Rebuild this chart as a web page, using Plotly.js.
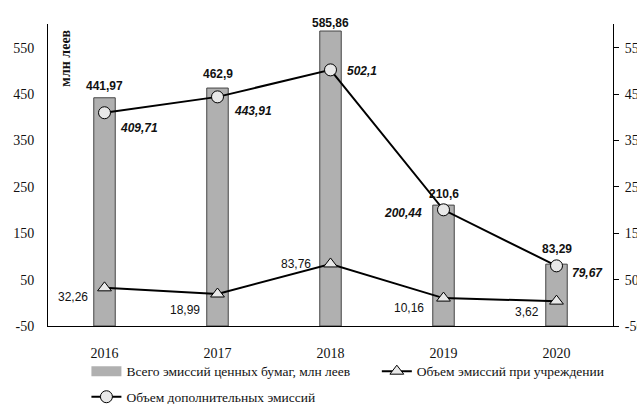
<!DOCTYPE html>
<html><head><meta charset="utf-8">
<script src="https://cdn.plot.ly/plotly-3.0.1.min.js"></script>
<style>html,body{margin:0;padding:0;background:#fff}</style>
</head><body>
<div id="chart" style="width:637px;height:404px"></div>
<script>
var years = ['2016','2017','2018','2019','2020'];
var totalIssues = [441.97, 462.9, 585.86, 210.6, 83.29];
var foundingIssues = [32.26, 18.99, 83.76, 10.16, 3.62];
var additionalIssues = [409.71, 443.91, 502.1, 200.44, 79.67];
var yTicks = [-50, 50, 150, 250, 350, 450, 550];
var seriesNames = ['Всего эмиссий ценных бумаг, млн леев', 'Объем эмиссий при учреждении', 'Объем дополнительных эмиссий'];
var axisLabel = 'млн леев';

function fmt(v){ return String(v).replace('.', ','); }

var Y_MIN = -50, Y_MAX = 601;
var sans = 'Liberation Sans, Arial, sans-serif';
var serif = 'Liberation Serif, Times New Roman, serif';

var traces = [
  {
    type: 'bar', x: years, y: totalIssues.map(function(v){ return v - Y_MIN; }), base: Y_MIN,
    name: seriesNames[0], showlegend: false,
    width: 0.19,
    marker: {color: '#b0b0b0', line: {color: '#444', width: 1}},
    hoverinfo: 'none'
  },
  {
    type: 'scatter', mode: 'lines', x: [null], y: [null], name: seriesNames[0],
    legend: 'legend', legendgroup: 'a',
    line: {color: '#b0b0b0', width: 10}, hoverinfo: 'none'
  },
  {
    type: 'scatter', mode: 'lines+markers', x: years, y: additionalIssues, name: seriesNames[2],
    legend: 'legend', legendgroup: 'b',
    line: {color: '#000', width: 2},
    marker: {symbol: 'circle', size: 12, color: '#e8e8e8', line: {color: '#000', width: 1}},
    cliponaxis: false, hoverinfo: 'none'
  },
  {
    type: 'scatter', mode: 'lines+markers', x: years, y: foundingIssues, name: seriesNames[1],
    legend: 'legend2',
    line: {color: '#000', width: 2},
    marker: {symbol: 'triangle-up', size: 12, color: '#e8e8e8', line: {color: '#000', width: 1}},
    cliponaxis: false, hoverinfo: 'none'
  },
  {
    type: 'scatter', mode: 'none', x: years, y: totalIssues, yaxis: 'y2', showlegend: false, hoverinfo: 'none'
  }
];

// label offsets in pixels [dx, dy(down)]
var barShift = [12, 14, 8, 11, 15];
var circleOffsets = [[34,15],[35,14],[31,1],[-41,3],[31,7]];
var triOffsets = [[-32,9],[-33,16],[-35,0],[-35,10],[-30,11]];

var annotations = [];
years.forEach(function(yr, i){
  // category axis: position annotations by category index
  annotations.push({x: i, y: totalIssues[i], xref: 'x', yref: 'y', text: fmt(totalIssues[i]),
    showarrow: false, xanchor: 'center', yanchor: 'middle', yshift: barShift[i],
    font: {family: sans, size: 12, color: '#111', weight: 'bold'}});
  annotations.push({x: i, y: additionalIssues[i], xref: 'x', yref: 'y', text: fmt(additionalIssues[i]),
    showarrow: false, xanchor: 'center', yanchor: 'middle', xshift: circleOffsets[i][0], yshift: -circleOffsets[i][1],
    font: {family: sans, size: 12, color: '#111', weight: 'bold', style: 'italic'}});
  annotations.push({x: i, y: foundingIssues[i], xref: 'x', yref: 'y', text: fmt(foundingIssues[i]),
    showarrow: false, xanchor: 'center', yanchor: 'middle', xshift: triOffsets[i][0], yshift: -triOffsets[i][1],
    font: {family: sans, size: 12, color: '#111'}});
});
annotations.push({text: axisLabel, xref: 'paper', yref: 'paper', x: 0.031, y: 0.887, textangle: -90,
  xanchor: 'center', yanchor: 'middle',
  showarrow: false, font: {family: serif, size: 14, color: '#111', weight: 'bold'}});

var layout = {
  width: 637, height: 404,
  margin: {l: 48, r: 24, t: 24, b: 78, autoexpand: false},
  paper_bgcolor: '#fff', plot_bgcolor: '#fff',
  showlegend: true,
  xaxis: {
    type: 'category', range: [-0.5, 4.5],
    showline: true, linecolor: '#000', linewidth: 1,
    ticks: '', showgrid: false, zeroline: false,
    tickfont: {family: serif, size: 14, color: '#111'},
    ticklabelstandoff: 14
  },
  yaxis: {
    range: [Y_MIN, Y_MAX], tickvals: yTicks, ticktext: yTicks.map(String),
    showline: true, linecolor: '#000', linewidth: 1,
    ticks: '', showgrid: false, zeroline: false,
    tickfont: {family: serif, size: 14, color: '#111'},
    ticklabelstandoff: 10
  },
  yaxis2: {
    overlaying: 'y', side: 'right', range: [Y_MIN, Y_MAX], tickvals: yTicks, ticktext: yTicks.map(String),
    showline: true, linecolor: '#000', linewidth: 1,
    ticks: 'outside', ticklen: 5, tickcolor: '#000', showgrid: false, zeroline: false,
    tickfont: {family: serif, size: 14, color: '#111'},
    ticklabelstandoff: 3
  },
  legend: {
    orientation: 'v', x: 0.068, xanchor: 'left', y: -0.099, yanchor: 'top',
    traceorder: 'grouped', tracegroupgap: 5, bgcolor: 'rgba(0,0,0,0)',
    font: {family: serif, size: 13.5, color: '#111'},
    itemwidth: 30
  },
  legend2: {
    orientation: 'v', x: 0.582, xanchor: 'left', y: -0.099, yanchor: 'top', bgcolor: 'rgba(0,0,0,0)',
    font: {family: serif, size: 13.5, color: '#111'},
    itemwidth: 30
  },
  annotations: annotations
};

Plotly.newPlot('chart', traces, layout, {displayModeBar: false, staticPlot: true});
</script>
</body></html>
